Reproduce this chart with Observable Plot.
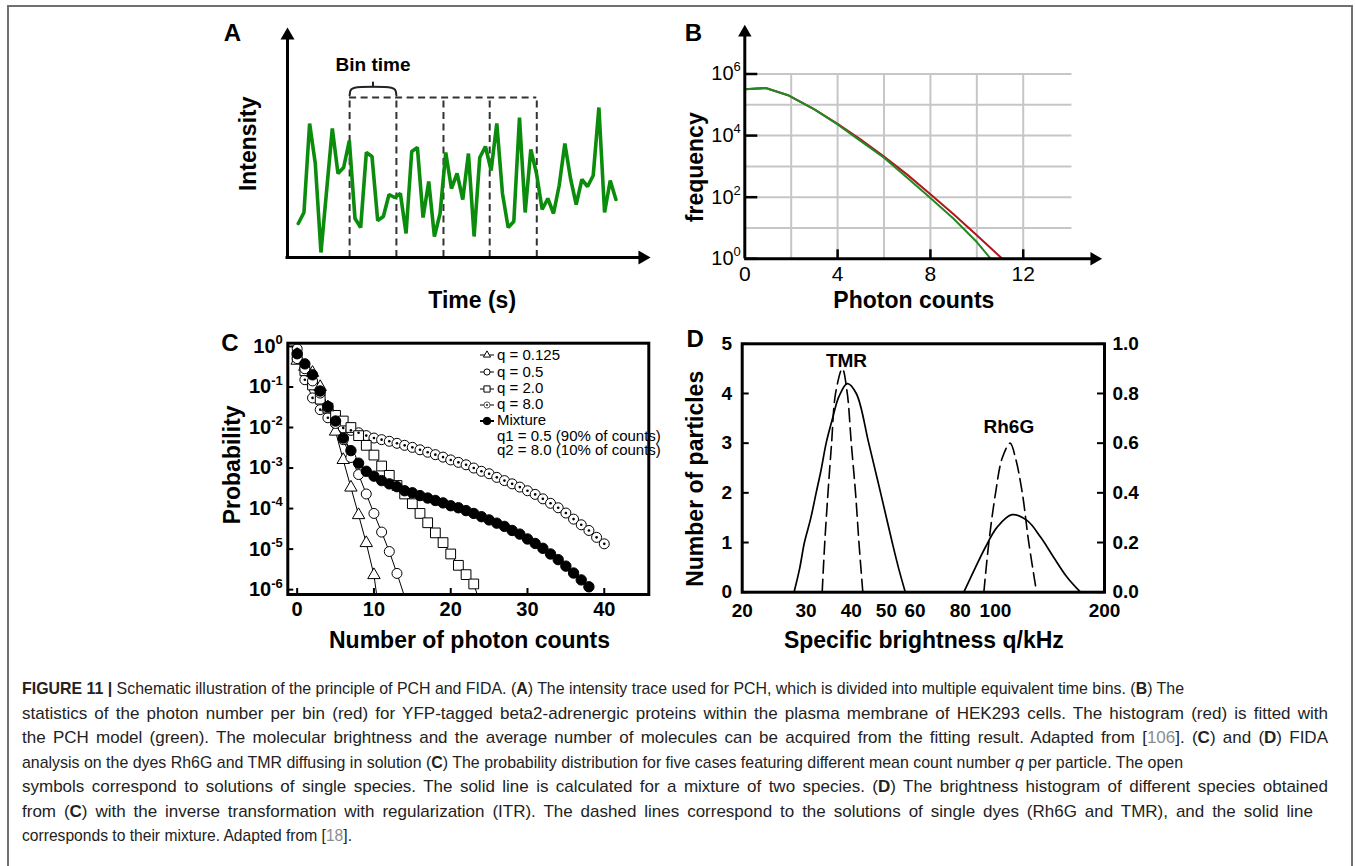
<!DOCTYPE html>
<html><head><meta charset="utf-8">
<script src="https://cdn.jsdelivr.net/npm/d3@7"></script>
<script src="https://cdn.jsdelivr.net/npm/@observablehq/plot@0.6"></script>
<style>
html,body{margin:0;padding:0;background:#fff;}
#root{position:relative;width:1356px;height:866px;overflow:hidden;background:#fff;font-family:'Liberation Sans',Arial,Helvetica,sans-serif;}
.cap{position:absolute;left:22px;white-space:nowrap;font-size:17px;line-height:20px;color:#222;}
.cap .ref{color:#8c8c8c;}
.leg{position:absolute;font-size:15px;line-height:16px;color:#000;white-space:nowrap;}
</style></head><body><div id="root"></div>
<script>
// ================= DATA =================
// Panel A: schematic intensity trace (arbitrary units, one value per sample)
const aIntensity = [34,45,134,94,5,67,129,84,90,117,39,30,105,101,37,41,63,60,64,24,106,110,40,76,21,44,105,69,84,58,104,21,100,111,87,134,64,30,36,140,45,108,84,48,59,44,72,114,79,53,78,71,82,150,45,77,58];
const aBinEdges = [9.05, 17.3, 25.6, 33.75, 42.05];
const aBinTop = 160;
const aBinLabel = "Bin time";

// Panel B: photon counting histogram
const bGreenCounts = [0, 0.9, 1.9, 3, 4, 5, 6, 7, 8, 9, 10, 10.6];
const bGreenFreq   = [320000, 350000, 200000, 71000, 23000, 6600, 1900, 430, 95, 20, 3.5, 1];
const bRedCounts   = [0, 0.9, 1.9, 3, 4, 5, 6, 7, 8, 9, 10, 11.1];
const bRedFreq     = [320000, 350000, 200000, 71000, 24000, 7400, 2100, 540, 125, 28, 5.8, 1];
const bXTicks = [0, 4, 8, 12];
const bYTicks = [1, 1e2, 1e4, 1e6];
const bGridX = [2, 4, 6, 8, 10, 12];
const bGridY = [10, 1e2, 1e3, 1e4, 1e5, 1e6];

// Panel C: probability (log10 exponents) per photon count 0,1,2,...
const cQ0125 = [-0.35,-0.5,-0.65,-1.0,-1.5,-2.1,-2.8,-3.48,-4.16,-4.85,-5.64];
const cQ05   = [-0.3,-0.55,-0.85,-1.15,-1.5,-1.9,-2.3,-2.74,-3.16,-3.64,-4.12,-4.58,-5.06,-5.6];
const cQ2    = [-0.25,-0.6,-0.95,-1.3,-1.52,-1.7,-1.84,-2.0,-2.2,-2.44,-2.68,-2.95,-3.18,-3.43,-3.64,-3.88,-4.12,-4.35,-4.6,-4.84,-5.12,-5.4,-5.63,-5.86];
const cQ8    = [-0.06,-0.82,-1.27,-1.56,-1.76,-1.91,-2.01,-2.07,-2.13,-2.2,-2.26,-2.3,-2.34,-2.39,-2.44,-2.49,-2.55,-2.61,-2.67,-2.73,-2.8,-2.86,-2.92,-3.0,-3.08,-3.14,-3.23,-3.31,-3.39,-3.47,-3.56,-3.65,-3.76,-3.87,-3.98,-4.11,-4.26,-4.4,-4.54,-4.71,-4.87];
const cMix   = [-0.18,-0.43,-0.7,-1.1,-1.48,-1.84,-2.26,-2.57,-2.88,-3.08,-3.2,-3.31,-3.39,-3.46,-3.56,-3.61,-3.68,-3.74,-3.8,-3.86,-3.93,-3.98,-4.05,-4.12,-4.2,-4.28,-4.36,-4.44,-4.54,-4.63,-4.75,-4.86,-4.98,-5.12,-5.26,-5.42,-5.59,-5.76,-5.93];
// where the fitted lines leave the bottom of the frame (photon count)
const cTailQ0125 = 10.35, cTailQ05 = 13.9, cTailQ2 = 23.45;
const cXTicks = [0, 10, 20, 30, 40];
const cYTicks = [1, 1e-1, 1e-2, 1e-3, 1e-4, 1e-5, 1e-6];
const cLegendLabels = ["q = 0.125", "q = 0.5", "q = 2.0", "q = 8.0", "Mixture"];
const cLegendNotes = ["q1 = 0.5 (90% of counts)", "q2 = 8.0 (10% of counts)"];

// Panel D: brightness histograms (q in kHz, number of particles)
const dTmrSolidQ = [27.8, 28.8, 29.7, 30.9, 32.0, 33.0, 34.1, 35.4, 37.0, 39.0, 41.3, 44.7, 48.2, 51.9, 54.1, 56.4];
const dTmrSolidN = [0, 0.47, 1.0, 1.48, 2.0, 2.45, 3.0, 3.46, 3.94, 4.2, 4.0, 3.0, 2.0, 1.0, 0.47, 0];
const dTmrDashQ  = [33.25, 33.8, 34.5, 35.3, 36.2, 37.8, 39.0, 40.0, 41.1, 42.0, 43.05];
const dTmrDashN  = [0, 1, 2, 3, 4, 4.5, 4, 3, 2, 1, 0];
const dRhSolidQ  = [81.8, 88.1, 93.9, 101.1, 111.2, 122.4, 133.2, 144.9, 157.7, 171.7];
const dRhSolidN  = [0, 0.5, 0.91, 1.31, 1.56, 1.44, 1.11, 0.7, 0.3, 0];
const dRhDashQ   = [92.9, 95.9, 100.1, 104.4, 109.8, 113.6, 118.6, 123.6, 129.9];
const dRhDashN   = [0, 1, 2, 2.7, 3.0, 2.7, 2, 1, 0];
const dXTicks = [20, 30, 40, 50, 60, 80, 100, 200];
const dYTicks = [0, 1, 2, 3, 4, 5];
const dRightTickLabels = ["0.0", "0.2", "0.4", "0.6", "0.8", "1.0"];
const dPeakLabels = ["TMR", "Rh6G"];
const dPeakLabelQ = [38.8, 108.9];
const dPeakLabelN = [4.66, 3.33];

// ================= HELPERS =================
const FONT = "'Liberation Sans', Arial, Helvetica, sans-serif";
const root = document.getElementById("root");
const baseStyle = {fontFamily: FONT, background: "transparent", overflow: "visible", color: "black"};
function mount(el, left, top) {
  el.style.position = "absolute"; el.style.left = left + "px"; el.style.top = top + "px";
  root.appendChild(el);
}
function label(str, opts) {
  return Plot.text([str], {text: d => d, textAnchor: "middle", lineAnchor: "middle", fontWeight: "bold", fill: "black", ...opts});
}
function superscripts(svg, supSize, rise) {
  svg.querySelectorAll("text").forEach(t => {
    const m = /^10\^(-?\d+)$/.exec(t.textContent);
    if (!m) return;
    t.textContent = "10";
    const ts = document.createElementNS("http://www.w3.org/2000/svg", "tspan");
    ts.setAttribute("dy", -rise);
    ts.setAttribute("font-size", supSize);
    ts.textContent = m[1];
    t.appendChild(ts);
  });
}
const expFmt = d => "10^" + Math.round(Math.log10(d));

// outer frame
const frameDiv = document.createElement("div");
Object.assign(frameDiv.style, {position: "absolute", left: "7px", top: "5px", width: "1342px", height: "920px",
  borderTop: "2px solid #707070", borderLeft: "2px solid #707070", borderRight: "2px solid #707070"});
root.appendChild(frameDiv);

// ================= PANEL A =================
{
  const W = 460, H = 320, M = {l: 87, r: 10, t: 27, b: 63};
  const xDom = [-1.9, 62.1], yDom = [0, 230];
  const pxX = (W - M.l - M.r) / (xDom[1] - xDom[0]);
  const pxY = (H - M.t - M.b) / (yDom[1] - yDom[0]);
  const table = aIntensity.map((v, i) => ({t: i, v}));
  const e0 = aBinEdges[0], e1 = aBinEdges[1], mid = (e0 + e1) / 2;
  const braceEnd = aBinTop + 2, braceArm = aBinTop + 9.7, braceTip = aBinTop + 15.3;
  const brace = [
    {t: e0, v: braceEnd}, {t: e0 + 0.25, v: braceArm - 1.8}, {t: e0 + 0.9, v: braceArm},
    {t: e1 - 0.9, v: braceArm}, {t: e1 - 0.25, v: braceArm - 1.8}, {t: e1, v: braceEnd}
  ];
  const svg = Plot.plot({
    width: W, height: H, marginLeft: M.l, marginRight: M.r, marginTop: M.t, marginBottom: M.b,
    x: {domain: xDom, axis: null}, y: {domain: yDom, axis: null}, style: baseStyle,
    marks: [
      Plot.ruleX(aBinEdges, {y1: 0, y2: aBinTop, stroke: "#333", strokeWidth: 2, strokeDasharray: "7,4.5"}),
      Plot.ruleY([aBinTop], {x1: aBinEdges[0], x2: aBinEdges[aBinEdges.length - 1], stroke: "#333", strokeWidth: 2, strokeDasharray: "7,4.5"}),
      Plot.line(table, {x: "t", y: "v", stroke: "#0c8c0c", strokeWidth: 3.6, strokeLinejoin: "miter"}),
      Plot.line(brace, {x: "t", y: "v", curve: "catmull-rom", stroke: "#222", strokeWidth: 2}),
      Plot.ruleX([mid], {y1: braceArm, y2: braceTip, stroke: "#222", strokeWidth: 2}),
      Plot.text([aBinLabel], {text: d => d, x: mid, y: braceTip + 17, fontSize: 19, fontWeight: "bold", fill: "black"}),
      // axes with arrowheads
      Plot.ruleX([xDom[0]], {y1: 0, y2: yDom[1] - 6 / pxY, stroke: "black", strokeWidth: 3}),
      Plot.ruleY([0], {x1: xDom[0] - 1.5 / pxX, x2: xDom[1] - 6 / pxX, stroke: "black", strokeWidth: 3}),
      Plot.dot([0], {x: xDom[0], y: yDom[1], symbol: "triangle", r: 5.2, fill: "black", stroke: "none", dy: 8}),
      Plot.dot([0], {x: xDom[1], y: 0, symbol: "triangle", rotate: 90, r: 5.2, fill: "black", stroke: "none", dx: -8}),
      label("A", {frameAnchor: "top-left", dx: -55, dy: 6, fontSize: 24}),
      label("Intensity", {frameAnchor: "left", rotate: -90, dx: -38.7, dy: 1.3, fontSize: 23}),
      label("Time (s)", {frameAnchor: "bottom", dx: 3.2, dy: 43, fontSize: 23})
    ]
  });
  mount(svg, 200, 0);
}

// ================= PANEL B =================
{
  const W = 460, H = 320, M = {l: 94.3, r: 8.4, t: 24.2, b: 61.7};
  const xDom = [0, 15.4], yDom = [1, 10 ** 7.6];
  const pxX = (W - M.l - M.r) / (xDom[1] - xDom[0]);
  const pxDec = (H - M.t - M.b) / Math.log10(yDom[1] / yDom[0]);
  const gridRight = 14.1;
  const green = bGreenCounts.map((c, i) => ({c, f: bGreenFreq[i]}));
  const red = bRedCounts.map((c, i) => ({c, f: bRedFreq[i]}));
  const svg = Plot.plot({
    width: W, height: H, marginLeft: M.l, marginRight: M.r, marginTop: M.t, marginBottom: M.b,
    x: {domain: xDom, axis: null}, y: {type: "log", domain: yDom, axis: null}, style: baseStyle,
    marks: [
      Plot.ruleY(bGridY, {x1: 0, x2: gridRight, stroke: "#c6c6c6", strokeWidth: 2}),
      Plot.ruleX(bGridX, {y1: 1, y2: 1e6, stroke: "#c6c6c6", strokeWidth: 2}),
      Plot.line(red, {x: "c", y: "f", stroke: "#b0161c", strokeWidth: 2}),
      Plot.line(green, {x: "c", y: "f", stroke: "#1f8a24", strokeWidth: 2}),
      Plot.ruleX([0], {y1: 1, y2: yDom[1] / 10 ** (6 / pxDec), stroke: "black", strokeWidth: 3}),
      Plot.ruleY([1], {x1: 0, x2: xDom[1] - 6 / pxX, stroke: "black", strokeWidth: 3}),
      Plot.dot([0], {x: 0, y: yDom[1], symbol: "triangle", r: 5, fill: "black", stroke: "none", dy: 7.8}),
      Plot.dot([0], {x: xDom[1], y: 1, symbol: "triangle", rotate: 90, r: 5, fill: "black", stroke: "none", dx: -7.8}),
      Plot.ruleY(bYTicks, {x1: 0, x2: 13 / pxX, stroke: "black", strokeWidth: 2.5}),
      Plot.ruleX(bXTicks.filter(d => d > 0), {y1: 1, y2: 10 ** (9 / pxDec), stroke: "black", strokeWidth: 2.5}),
      Plot.text(bXTicks, {x: d => d, text: d => String(d), frameAnchor: "bottom", lineAnchor: "top", dy: 7, fontSize: 21, fill: "black"}),
      Plot.text(bYTicks, {y: d => d, text: expFmt, frameAnchor: "left", textAnchor: "end", dx: -4, fontSize: 20, fill: "black"}),
      label("B", {frameAnchor: "top-left", dx: -51.5, dy: 9, fontSize: 24}),
      label("frequency", {frameAnchor: "left", rotate: -90, dx: -49.3, dy: 25.5, fontSize: 23}),
      label("Photon counts", {frameAnchor: "bottom", dx: -9.6, dy: 41.7, fontSize: 23})
    ]
  });
  superscripts(svg, 13, 9);
  mount(svg, 650, 0);
}

// ================= PANEL C =================
{
  const W = 460, H = 340, M = {l: 87.3, r: 11.7, t: 22.7, b: 66};
  const xDom = [-1.22, 45.8], yExp = [-6.12, 0.08];
  const yDom = [10 ** yExp[0], 10 ** yExp[1]];
  const pxX = (W - M.l - M.r) / (xDom[1] - xDom[0]);
  const pxDec = (H - M.t - M.b) / (yExp[1] - yExp[0]);
  const pts = exps => exps.map((e, n) => ({n, p: 10 ** e}));
  const withTail = (exps, tail) => tail == null ? pts(exps) : pts(exps).concat([{n: tail, p: yDom[0]}]);
  const series = [
    {exps: cQ8, tail: null, symbol: "circle", r: 5, fill: "white", lw: 1},
    {exps: cQ2, tail: cTailQ2, symbol: "square", r: 5.5, fill: "white", lw: 1},
    {exps: cQ0125, tail: cTailQ0125, symbol: "triangle", r: 4.6, fill: "white", lw: 1},
    {exps: cQ05, tail: cTailQ05, symbol: "circle", r: 5, fill: "white", lw: 1},
    {exps: cMix, tail: null, symbol: "circle", r: 5.2, fill: "black", lw: 1.6}
  ];
  const marks = [];
  for (const s of series) marks.push(Plot.line(withTail(s.exps, s.tail), {x: "n", y: "p", stroke: "black", strokeWidth: s.lw, clip: true}));
  for (const s of series) marks.push(Plot.dot(pts(s.exps), {x: "n", y: "p", symbol: s.symbol, r: s.r, fill: s.fill, stroke: "black", strokeWidth: 1}));
  marks.push(Plot.dot(pts(cQ8), {x: "n", y: "p", r: 1.3, fill: "black"}));
  marks.push(
    Plot.frame({stroke: "black", strokeWidth: 3}),
    Plot.ruleY(cYTicks, {x1: xDom[0], x2: xDom[0] + 6 / pxX, stroke: "black", strokeWidth: 2}),
    Plot.ruleX(cXTicks, {y1: yDom[0], y2: yDom[0] * 10 ** (6 / pxDec), stroke: "black", strokeWidth: 2}),
    Plot.text(cXTicks, {x: d => d, text: d => String(d), frameAnchor: "bottom", lineAnchor: "top", dy: 7, fontSize: 20, fontWeight: "bold", fill: "black"}),
    Plot.text(cYTicks, {y: d => d, text: expFmt, frameAnchor: "left", textAnchor: "end", dx: -5, fontSize: 20, fontWeight: "bold", fill: "black"}),
    label("C", {frameAnchor: "top-left", dx: -58, dy: 0, fontSize: 24}),
    label("Probability", {frameAnchor: "left", rotate: -90, dx: -55.6, dy: -4, fontSize: 23}),
    label("Number of photon counts", {frameAnchor: "bottom", dx: 1.2, dy: 46, fontSize: 23})
  );
  const svg = Plot.plot({
    width: W, height: H, marginLeft: M.l, marginRight: M.r, marginTop: M.t, marginBottom: M.b,
    x: {domain: xDom, axis: null}, y: {type: "log", domain: yDom, axis: null}, style: baseStyle, marks
  });
  superscripts(svg, 13, 8.5);
  mount(svg, 200, 320);

  // legend (inside the frame, top right)
  const rowY = [355, 372, 388.5, 404.5, 420.5, 436, 450.5];
  const NS = "http://www.w3.org/2000/svg";
  const drawSym = (g, k) => {
    const line = document.createElementNS(NS, "line");
    line.setAttribute("x1", 1); line.setAttribute("x2", 15); line.setAttribute("y1", 6); line.setAttribute("y2", 6);
    line.setAttribute("stroke", "black"); line.setAttribute("stroke-width", k === 4 ? 2 : 1);
    g.appendChild(line);
    const p = document.createElementNS(NS, "path");
    const size = [22, 30, 38, 30, 44][k];
    const type = [d3.symbolTriangle, d3.symbolCircle, d3.symbolSquare, d3.symbolCircle, d3.symbolCircle][k];
    p.setAttribute("d", d3.symbol(type, size)());
    p.setAttribute("transform", "translate(8,6)");
    p.setAttribute("fill", k === 4 ? "black" : "white");
    p.setAttribute("stroke", k === 3 ? "#555" : "black"); p.setAttribute("stroke-width", 1);
    g.appendChild(p);
    if (k === 3) {
      const c = document.createElementNS(NS, "circle");
      c.setAttribute("cx", 8); c.setAttribute("cy", 6); c.setAttribute("r", 0.9); c.setAttribute("fill", "black");
      g.appendChild(c);
    }
  };
  cLegendLabels.forEach((txt, k) => {
    const s = document.createElementNS(NS, "svg");
    s.setAttribute("width", 16); s.setAttribute("height", 12);
    s.style.position = "absolute"; s.style.left = "479px"; s.style.top = (rowY[k] - 6) + "px";
    drawSym(s, k);
    root.appendChild(s);
    const t = document.createElement("div");
    t.className = "leg"; t.textContent = txt;
    t.style.left = "497px"; t.style.top = (rowY[k] - 8.5) + "px";
    root.appendChild(t);
  });
  cLegendNotes.forEach((txt, j) => {
    const t = document.createElement("div");
    t.className = "leg"; t.textContent = txt;
    t.style.left = "497px"; t.style.top = (rowY[5 + j] - 8.5) + "px";
    root.appendChild(t);
  });
}

// ================= PANEL D =================
{
  const W = 490, H = 340, M = {l: 91.7, r: 36, t: 23.3, b: 68.3};
  const xDom = [20, 200], yDom = [0, 5];
  const pxDec = (W - M.l - M.r) / Math.log10(xDom[1] / xDom[0]);
  const k = 10 ** (7 / pxDec);
  const mk = (qs, ns) => qs.map((q, i) => ({q, n: ns[i]}));
  const labels = dPeakLabels.map((s, i) => ({s, q: dPeakLabelQ[i], n: dPeakLabelN[i]}));
  const svg = Plot.plot({
    width: W, height: H, marginLeft: M.l, marginRight: M.r, marginTop: M.t, marginBottom: M.b,
    x: {type: "log", domain: xDom, axis: null}, y: {domain: yDom, axis: null}, style: baseStyle,
    marks: [
      Plot.line(mk(dTmrSolidQ, dTmrSolidN), {x: "q", y: "n", curve: "catmull-rom", stroke: "black", strokeWidth: 1.7}),
      Plot.line(mk(dRhSolidQ, dRhSolidN), {x: "q", y: "n", curve: "catmull-rom", stroke: "black", strokeWidth: 1.7}),
      Plot.line(mk(dTmrDashQ, dTmrDashN), {x: "q", y: "n", curve: "catmull-rom", stroke: "black", strokeWidth: 1.6, strokeDasharray: "13,6"}),
      Plot.line(mk(dRhDashQ, dRhDashN), {x: "q", y: "n", curve: "catmull-rom", stroke: "black", strokeWidth: 1.6, strokeDasharray: "13,6"}),
      Plot.frame({stroke: "black", strokeWidth: 3}),
      Plot.ruleY(dYTicks, {x1: xDom[0], x2: xDom[0] * k, stroke: "black", strokeWidth: 2}),
      Plot.ruleY(dYTicks, {x1: xDom[1] / k, x2: xDom[1], stroke: "black", strokeWidth: 2}),
      Plot.text(dXTicks, {x: d => d, text: d => String(d), frameAnchor: "bottom", lineAnchor: "top", dy: 11, fontSize: 19, fontWeight: "bold", fill: "black"}),
      Plot.text(dYTicks, {y: d => d, text: d => String(d), frameAnchor: "left", textAnchor: "end", dx: -10, fontSize: 19, fontWeight: "bold", fill: "black"}),
      Plot.text(dYTicks, {y: d => d, text: d => dRightTickLabels[dYTicks.indexOf(d)], frameAnchor: "right", textAnchor: "start", dx: 8, fontSize: 19, fontWeight: "bold", fill: "black"}),
      Plot.text(labels, {x: "q", y: "n", text: "s", fontSize: 19, fontWeight: "bold", fill: "black"}),
      label("D", {frameAnchor: "top-left", dx: -47, dy: -4, fontSize: 24}),
      label("Number of particles", {frameAnchor: "left", rotate: -90, dx: -46.7, dy: 10.8, fontSize: 23}),
      label("Specific brightness q/kHz", {frameAnchor: "bottom", dx: 0.5, dy: 48.3, fontSize: 23})
    ]
  });
  mount(svg, 650, 320);
}

// ================= CAPTION =================
const captionLines = [
  {html: '<b>FIGURE 11 |</b> Schematic illustration of the principle of PCH and FIDA. (<b>A</b>) The intensity trace used for PCH, which is divided into multiple equivalent time bins. (<b>B</b>) The', target: 1162, justify: true},
  {html: 'statistics of the photon number per bin (red) for YFP-tagged beta2-adrenergic proteins within the plasma membrane of HEK293 cells. The histogram (red) is fitted with', target: 1306, justify: true},
  {html: 'the PCH model (green). The molecular brightness and the average number of molecules can be acquired from the fitting result. Adapted from [<span class="ref">106</span>]. (<b>C</b>) and (<b>D</b>) FIDA', target: 1306, justify: true},
  {html: 'analysis on the dyes Rh6G and TMR diffusing in solution (<b>C</b>) The probability distribution for five cases featuring different mean count number <i>q</i> per particle. The open', target: 1161, justify: true},
  {html: 'symbols correspond to solutions of single species. The solid line is calculated for a mixture of two species. (<b>D</b>) The brightness histogram of different species obtained', target: 1306, justify: true},
  {html: 'from (<b>C</b>) with the inverse transformation with regularization (ITR). The dashed lines correspond to the solutions of single dyes (Rh6G and TMR), and the solid line', target: 1291, justify: true},
  {html: 'corresponds to their mixture. Adapted from [<span class="ref">18</span>].', target: 330, justify: false}
];
const captionY = [689, 713.5, 738, 762.5, 787, 811.5, 836];
captionLines.forEach((ln, i) => {
  const div = document.createElement("div");
  div.className = "cap";
  div.style.top = (captionY[i] - 10) + "px";
  const span = document.createElement("span");
  span.innerHTML = ln.html;
  span.style.display = "inline-block";
  span.style.transformOrigin = "0 50%";
  div.appendChild(span);
  root.appendChild(div);
  const w = span.getBoundingClientRect().width;
  const spaces = (span.textContent.match(/ /g) || []).length;
  if (w > ln.target) span.style.transform = `scaleX(${ln.target / w})`;
  else if (ln.justify && spaces) span.style.wordSpacing = ((ln.target - w) / spaces) + "px";
});
</script></body></html>
